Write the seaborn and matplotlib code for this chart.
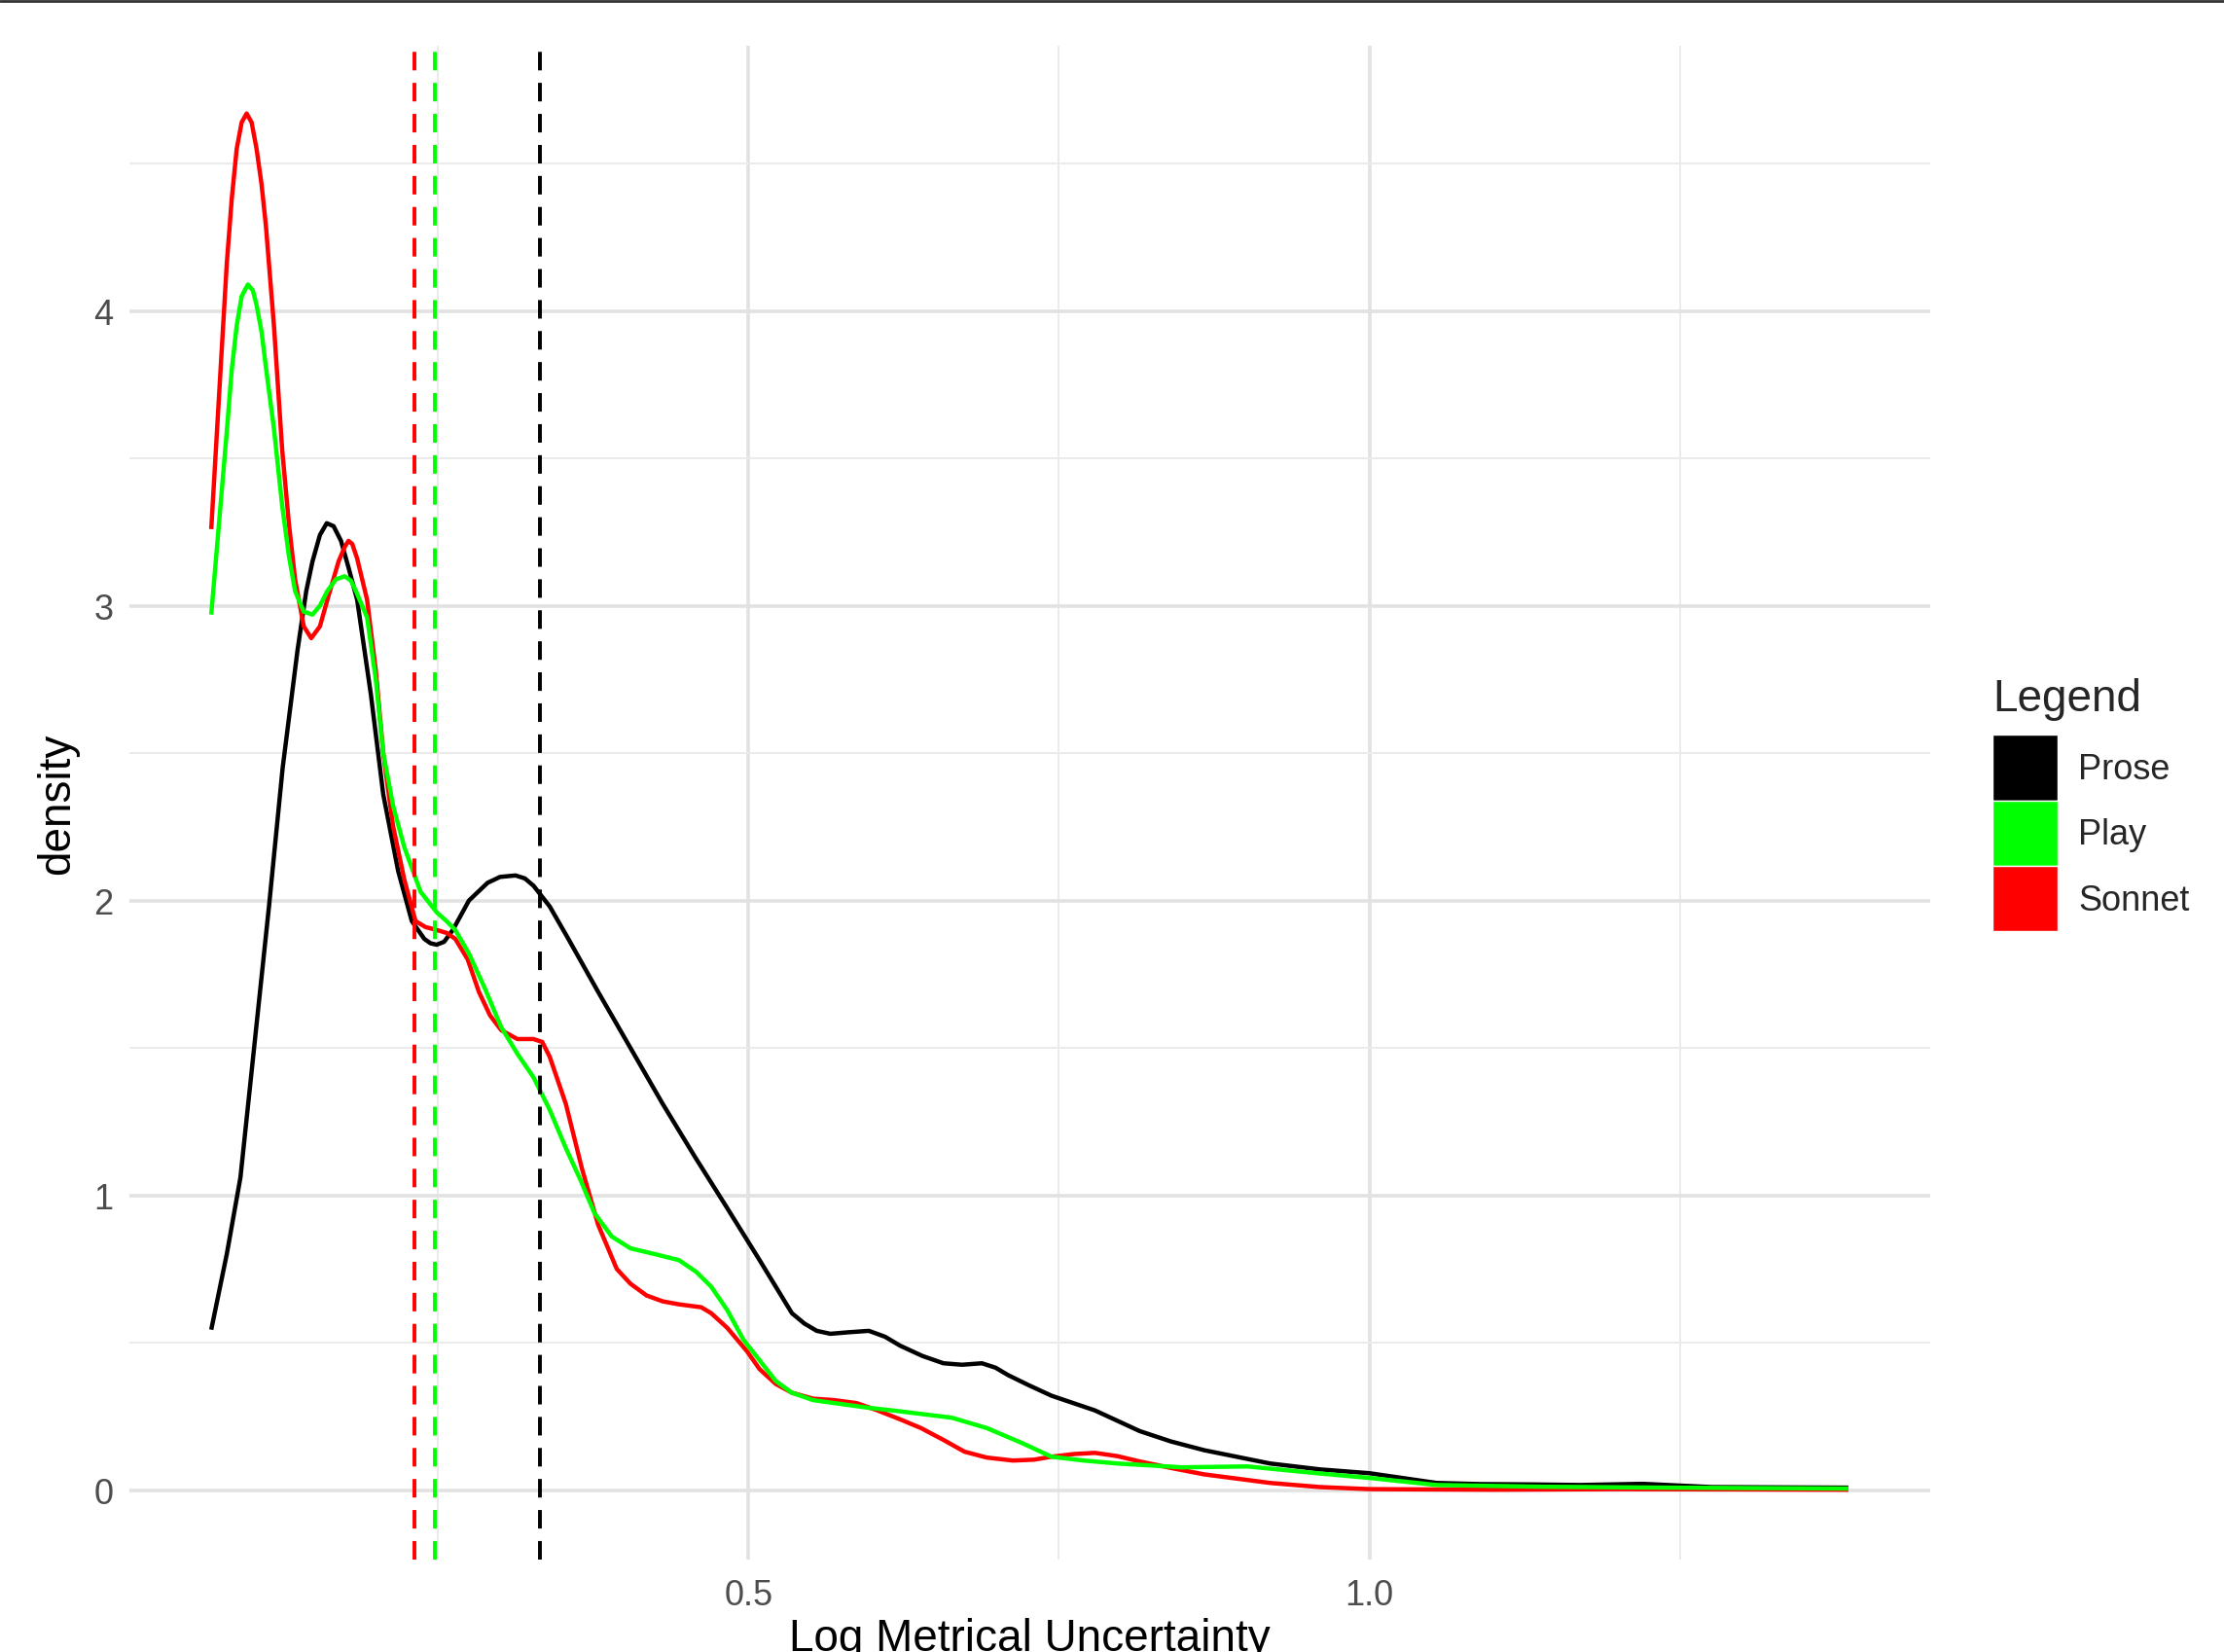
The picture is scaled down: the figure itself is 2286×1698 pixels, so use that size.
import numpy as np
import pandas as pd
import matplotlib
matplotlib.use("Agg")
import matplotlib.pyplot as plt
from matplotlib.patches import Patch
from matplotlib.lines import Line2D
from matplotlib import font_manager
import seaborn as sns

# ---------------- data ----------------
prose_x = [0.0675, 0.08, 0.091, 0.102, 0.114, 0.125, 0.137, 0.144, 0.149, 0.155, 0.1605, 0.166,
           0.172, 0.178, 0.185, 0.196, 0.206, 0.218, 0.229, 0.239, 0.244, 0.249, 0.255, 0.262,
           0.275, 0.29, 0.3, 0.3125, 0.32, 0.327, 0.340, 0.355, 0.379, 0.405, 0.431, 0.457,
           0.483, 0.509, 0.535, 0.545, 0.555, 0.566, 0.58, 0.597, 0.61, 0.622, 0.64, 0.657,
           0.672, 0.688, 0.699, 0.709, 0.726, 0.744, 0.779, 0.815, 0.84, 0.867, 0.92, 0.96,
           1.0, 1.054, 1.09, 1.129, 1.17, 1.22, 1.275, 1.33, 1.3856]
prose_y = [0.544, 0.80, 1.06, 1.50, 1.98, 2.45, 2.85, 3.05, 3.15, 3.24, 3.28, 3.27,
           3.22, 3.13, 3.02, 2.70, 2.36, 2.10, 1.93, 1.87, 1.855, 1.85, 1.86, 1.90,
           2.00, 2.06, 2.08, 2.085, 2.075, 2.05, 1.98, 1.87, 1.69, 1.50, 1.31, 1.13,
           0.956, 0.78, 0.60, 0.565, 0.54, 0.53, 0.535, 0.54, 0.52, 0.49, 0.455, 0.43,
           0.425, 0.43, 0.415, 0.39, 0.355, 0.32, 0.27, 0.20, 0.165, 0.135, 0.09, 0.07,
           0.057, 0.024, 0.02, 0.019, 0.017, 0.021, 0.01, 0.009, 0.008]

sonnet_x = [0.0675, 0.08, 0.084, 0.088, 0.092, 0.096, 0.1, 0.104, 0.108, 0.1115, 0.118, 0.1246,
            0.13, 0.135, 0.142, 0.148, 0.155, 0.161, 0.17, 0.175, 0.178, 0.181, 0.185, 0.193,
            0.2, 0.206, 0.214, 0.223, 0.232, 0.24, 0.249, 0.257, 0.264, 0.274, 0.283, 0.292,
            0.301, 0.314, 0.327, 0.334, 0.340, 0.353, 0.366, 0.379, 0.394, 0.405, 0.418, 0.431,
            0.444, 0.462, 0.47, 0.483, 0.499, 0.509, 0.522, 0.535, 0.552, 0.569, 0.587, 0.604,
            0.622, 0.639, 0.657, 0.674, 0.692, 0.713, 0.73, 0.744, 0.762, 0.779, 0.797, 0.815,
            0.84, 0.867, 0.92, 0.96, 1.0, 1.1, 1.2, 1.3, 1.3856]
sonnet_y = [3.26, 4.16, 4.38, 4.55, 4.64, 4.67, 4.64, 4.55, 4.43, 4.29, 3.95, 3.53,
            3.28, 3.09, 2.93, 2.89, 2.93, 3.02, 3.15, 3.20, 3.22, 3.21, 3.16, 3.02,
            2.78, 2.50, 2.25, 2.07, 1.93, 1.91, 1.90, 1.89, 1.87, 1.80, 1.69, 1.61,
            1.56, 1.53, 1.53, 1.52, 1.47, 1.31, 1.09, 0.90, 0.75, 0.70, 0.66, 0.64,
            0.63, 0.62, 0.60, 0.55, 0.47, 0.41, 0.36, 0.33, 0.31, 0.305, 0.295, 0.27,
            0.24, 0.21, 0.17, 0.13, 0.11, 0.10, 0.103, 0.113, 0.122, 0.126, 0.115, 0.097,
            0.075, 0.053, 0.024, 0.01, 0.003, 0.001, 0.003, 0.002, 0.001]

play_x = [0.0675, 0.08, 0.084, 0.088, 0.092, 0.097, 0.101, 0.104, 0.108, 0.1115, 0.118, 0.1246,
          0.13, 0.135, 0.142, 0.149, 0.155, 0.161, 0.168, 0.175, 0.18, 0.184, 0.193, 0.2,
          0.206, 0.214, 0.223, 0.236, 0.249, 0.257, 0.264, 0.275, 0.288, 0.301, 0.314, 0.327,
          0.340, 0.353, 0.365, 0.376, 0.39, 0.405, 0.425, 0.444, 0.458, 0.470, 0.483, 0.496,
          0.509, 0.522, 0.535, 0.552, 0.569, 0.595, 0.622, 0.645, 0.664, 0.692, 0.72, 0.744,
          0.77, 0.797, 0.849, 0.902, 0.955, 1.0, 1.054, 1.14, 1.24, 1.3856]
play_y = [2.97, 3.59, 3.80, 3.95, 4.05, 4.09, 4.07, 4.02, 3.93, 3.81, 3.60, 3.34,
          3.17, 3.05, 2.98, 2.97, 3.00, 3.05, 3.09, 3.10, 3.085, 3.05, 2.96, 2.75,
          2.50, 2.32, 2.18, 2.03, 1.96, 1.93, 1.90, 1.82, 1.70, 1.57, 1.48, 1.40,
          1.29, 1.16, 1.05, 0.94, 0.86, 0.82, 0.80, 0.78, 0.74, 0.69, 0.61, 0.51,
          0.44, 0.37, 0.33, 0.305, 0.295, 0.28, 0.267, 0.255, 0.245, 0.21, 0.16, 0.113,
          0.10, 0.09, 0.077, 0.08, 0.058, 0.041, 0.017, 0.011, 0.008, 0.005]

categories = ["Prose", "Play", "Sonnet"]
colors = {"Prose": "#000000", "Play": "#00FF00", "Sonnet": "#FF0000"}
means = {"Sonnet": 0.2315, "Play": 0.2475, "Prose": 0.3325}

x_ticks = [0.5, 1.0]
x_tick_labels = ["0.5", "1.0"]
y_ticks = [0, 1, 2, 3, 4]
y_tick_labels = ["0", "1", "2", "3", "4"]

df = pd.concat([
    pd.DataFrame({"x": prose_x, "density": prose_y, "Legend": "Prose"}),
    pd.DataFrame({"x": sonnet_x, "density": sonnet_y, "Legend": "Sonnet"}),
    pd.DataFrame({"x": play_x, "density": play_y, "Legend": "Play"}),
], ignore_index=True)

# ---------------- style ----------------
sns.set_theme(style="white")
avail = {f.name for f in font_manager.fontManager.ttflist}
base_font = "Liberation Sans" if "Liberation Sans" in avail else "DejaVu Sans"
narrow_font = "Liberation Sans Narrow" if "Liberation Sans Narrow" in avail else base_font
plt.rcParams["font.family"] = [base_font, "DejaVu Sans"]

W, H = 2286, 1699
fig = plt.figure(figsize=(W / 100, H / 100), dpi=100)
left, right, top, bottom = 133 / W, 1984 / W, 48 / H, 1604 / H
ax = fig.add_axes([left, 1 - bottom, right - left, bottom - top])

# grid
ax.set_axisbelow(True)
ax.set_xticks(x_ticks)
ax.set_xticklabels(x_tick_labels)
ax.set_xticks([0.25, 0.75, 1.25], minor=True)
ax.set_yticks(y_ticks)
ax.set_yticklabels(y_tick_labels)
ax.set_yticks([0.5, 1.5, 2.5, 3.5, 4.5], minor=True)
ax.grid(which="major", color="#E2E2E2", linewidth=2.6)
ax.grid(which="minor", color="#EBEBEB", linewidth=1.4)

order = ["Prose", "Sonnet", "Play"]
for name in order:
    sns.lineplot(data=df[df["Legend"] == name], x="x", y="density", color=colors[name],
                 linewidth=3.2, ax=ax, legend=False, sort=False)
for ln in ax.get_lines():
    ln.set_solid_joinstyle("round")
    ln.set_solid_capstyle("butt")

for name in ["Sonnet", "Play", "Prose"]:
    ax.axvline(means[name], color=colors[name], linewidth=2.8,
               linestyle=(0, (4.9, 3.3)))

ax.set_xlim(0.0016, 1.4515)
ax.set_ylim(-0.236, 4.9)

for s in ax.spines.values():
    s.set_visible(False)
ax.tick_params(axis="both", which="both", length=0, labelsize=26, colors="#4D4D4D", pad=14)
ax.tick_params(axis="y", pad=12)

ax.set_xlabel("Log Metrical Uncertainty", fontsize=33, color="black", family=[narrow_font, "DejaVu Sans"])
ax.set_ylabel("density", fontsize=33, color="black", family=[narrow_font, "DejaVu Sans"])
ax.xaxis.set_label_coords(0.5, -0.038)
ax.yaxis.set_label_coords(-0.028, 0.5)

# legend (fill keys, like ggplot)
handles = [Patch(facecolor=colors[c], edgecolor="white", linewidth=1.0, label=c) for c in categories]
leg = fig.legend(handles=handles, title="Legend", loc="upper left",
                 bbox_to_anchor=(2048 / W, 1 - 697 / H), frameon=False,
                 fontsize=26, title_fontsize=33, handlelength=1.85, handleheight=2.49,
                 labelspacing=0.0, handletextpad=0.6, borderpad=0.0, borderaxespad=0.0,
                 alignment="left")
leg._legend_box.sep = 11

# thin dark rule along the top edge of the image
fig.add_artist(Line2D([0, 1], [1 - 1.5 / H, 1 - 1.5 / H], transform=fig.transFigure,
                      color="#333333", linewidth=2.0))

fig.savefig("out.png", dpi=100, facecolor="white")
